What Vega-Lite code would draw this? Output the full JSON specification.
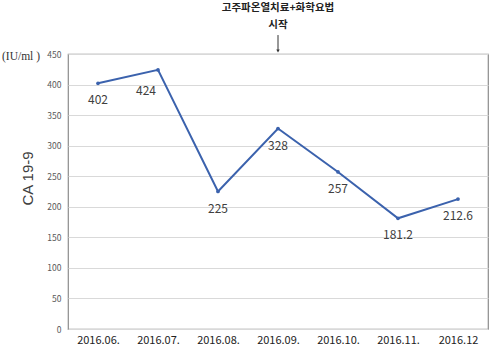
{
  "$schema": "https://vega.github.io/schema/vega-lite/v6.json",
  "width": 420,
  "height": 275,
  "autosize": {"type": "none"},
  "padding": {"left": 68, "top": 54, "right": 5, "bottom": 18},
  "background": "white",
  "config": {
    "view": {"stroke": "#8c8c8c", "strokeWidth": 1.2},
    "font": "Noto Sans CJK KR"
  },
  "title": {
    "text": "(IU/ml )",
    "anchor": "start",
    "frame": "group",
    "orient": "top",
    "dx": -66,
    "offset": -60,
    "font": "Liberation Serif",
    "fontSize": 11.5,
    "fontWeight": "normal",
    "color": "#333333"
  },
  "datasets": {
    "series": [
      {"month": "2016.06.", "value": 402},
      {"month": "2016.07.", "value": 424},
      {"month": "2016.08.", "value": 225},
      {"month": "2016.09.", "value": 328},
      {"month": "2016.10.", "value": 257},
      {"month": "2016.11.", "value": 181.2},
      {"month": "2016.12", "value": 212.6}
    ],
    "note": [
      {"month": "2016.09.", "note": "고주파온열치료+화학요법", "sub": "시작", "ytext": 450, "ylow": 455, "yhigh": 481}
    ]
  },
  "encoding": {
    "x": {
      "field": "month",
      "type": "ordinal",
      "sort": null,
      "scale": {"type": "point", "padding": 0.5},
      "axis": {
        "title": null,
        "labelAngle": 0,
        "ticks": false,
        "domain": false,
        "grid": false,
        "labelFontSize": 11,
        "labelColor": "#222222",
        "labelPadding": 5
      }
    },
    "y": {
      "field": "value",
      "type": "quantitative",
      "scale": {"domain": [0, 450], "nice": false},
      "axis": {
        "values": [0, 50, 100, 150, 200, 250, 300, 350, 400, 450],
        "grid": true,
        "gridColor": "#d9d9d9",
        "ticks": false,
        "domain": false,
        "labelFontSize": 8.5,
        "labelColor": "#595959",
        "labelPadding": 7,
        "title": "CA 19-9",
        "titleFont": "Liberation Sans",
        "titleFontSize": 15,
        "titleFontWeight": "normal",
        "titleColor": "#404040",
        "titleX": -41,
        "titleY": 124,
        "titleAlign": "center",
        "titleBaseline": "middle"
      }
    }
  },
  "layer": [
    {
      "data": {"name": "series"},
      "mark": {"type": "line", "color": "#3b62ad", "strokeWidth": 2}
    },
    {
      "data": {"name": "series"},
      "mark": {"type": "point", "filled": true, "size": 14, "color": "#3b62ad", "opacity": 1}
    },
    {
      "data": {"name": "series"},
      "transform": [{"filter": "datum.value != 424"}],
      "mark": {"type": "text", "dy": 17, "fontSize": 12, "color": "#404040"},
      "encoding": {"text": {"field": "value"}}
    },
    {
      "data": {"name": "series"},
      "transform": [{"filter": "datum.value == 424"}],
      "mark": {"type": "text", "dy": 21, "dx": -12, "fontSize": 12, "color": "#404040"},
      "encoding": {"text": {"field": "value"}}
    },
    {
      "data": {"name": "note"},
      "mark": {"type": "text", "dy": -46.5, "fontSize": 10.5, "fontWeight": "bold", "color": "#222222", "baseline": "middle"},
      "encoding": {
        "y": {"field": "ytext", "type": "quantitative"},
        "text": {"field": "note"}
      }
    },
    {
      "data": {"name": "note"},
      "mark": {"type": "text", "dy": -29.5, "fontSize": 10.5, "fontWeight": "bold", "color": "#222222", "baseline": "middle"},
      "encoding": {
        "y": {"field": "ytext", "type": "quantitative"},
        "text": {"field": "sub"}
      }
    },
    {
      "data": {"name": "note"},
      "mark": {"type": "rule", "color": "#333333", "strokeWidth": 1},
      "encoding": {
        "y": {"field": "ylow", "type": "quantitative"},
        "y2": {"field": "yhigh"}
      }
    },
    {
      "data": {"name": "note"},
      "mark": {"type": "point", "shape": "triangle-down", "filled": true, "size": 12, "color": "#333333", "opacity": 1},
      "encoding": {
        "y": {"field": "ylow", "type": "quantitative"}
      }
    }
  ]
}
